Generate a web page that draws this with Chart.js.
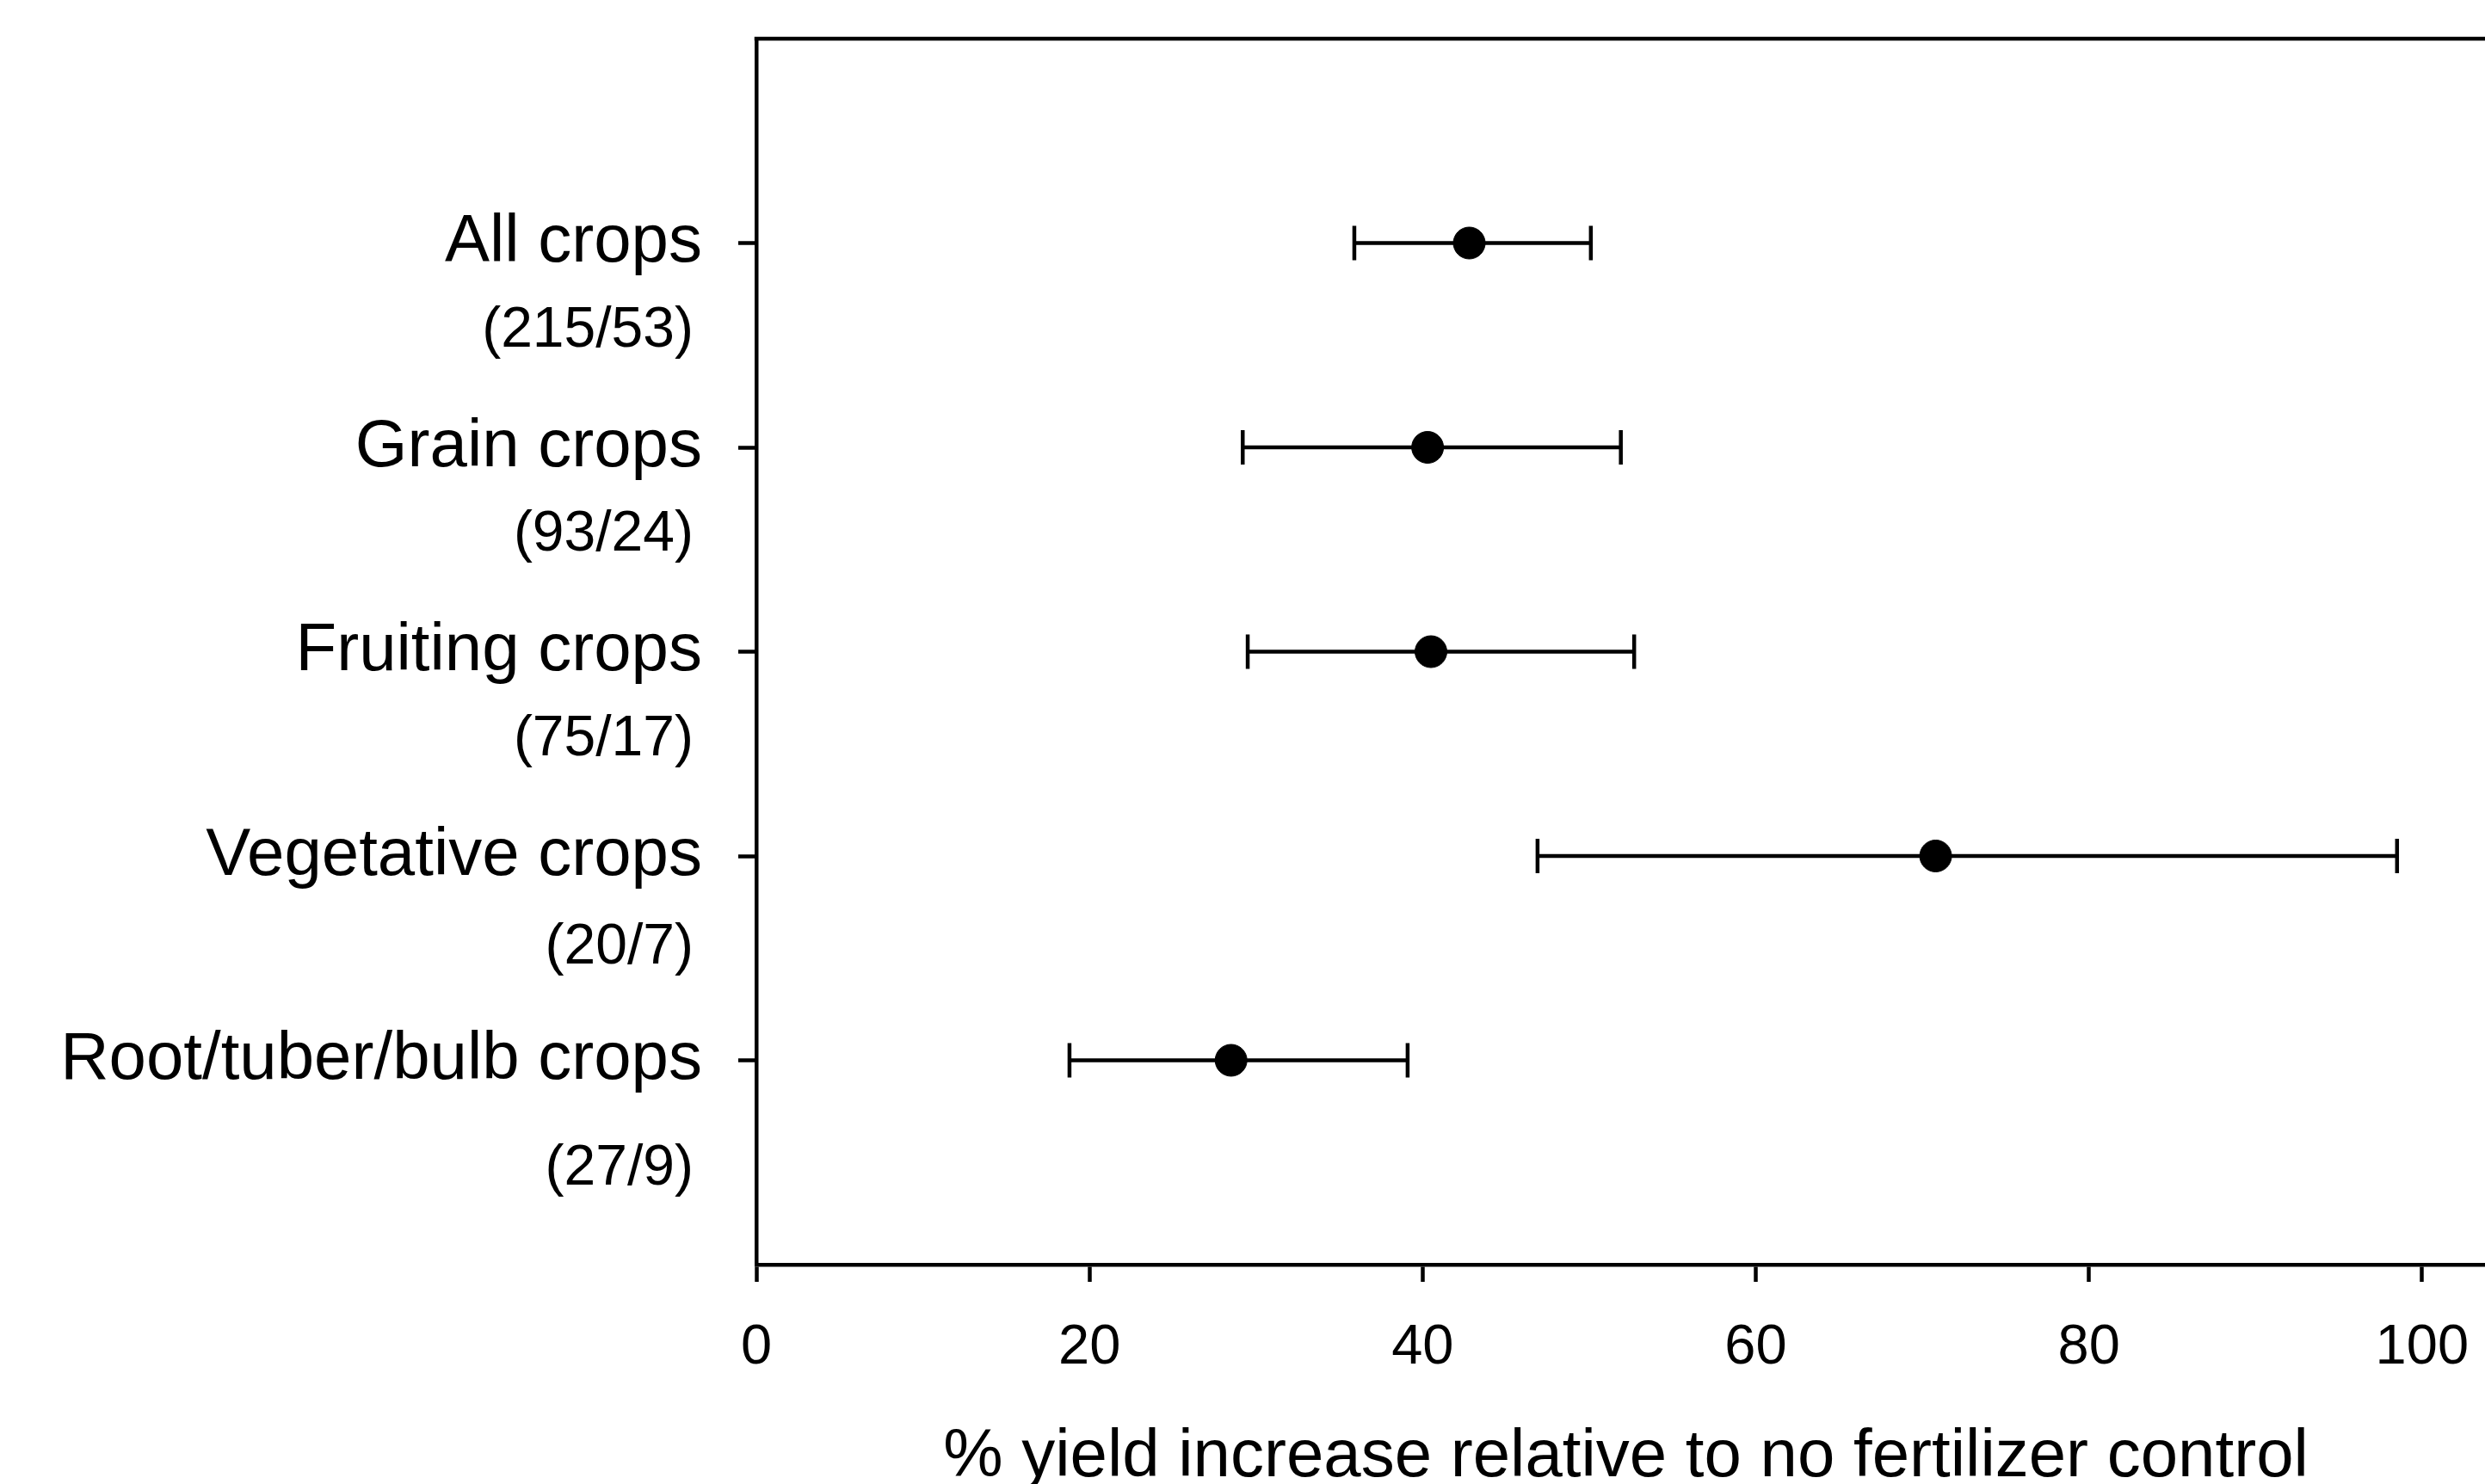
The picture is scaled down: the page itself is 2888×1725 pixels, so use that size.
<!DOCTYPE html>
<html lang="en">
<head>
    <meta charset="utf-8" />
    <title>Yield increase by crop group</title>
    <script src="https://cdn.jsdelivr.net/npm/chart.js@4"></script>
    <style>
        html, body { margin: 0; padding: 0; background: #fff; overflow: hidden; }
        canvas { display: block; }
    </style>
</head>
<body>
    <canvas id="chart" width="2900" height="1760"></canvas>
    <script>
        // values
        const categories = ['All crops', 'Grain crops', 'Fruiting crops', 'Vegetative crops', 'Root/tuber/bulb crops'];
        const sampleSizes = ['(215/53)', '(93/24)', '(75/17)', '(20/7)', '(27/9)'];
        const meanIncrease = [42.8, 40.3, 40.5, 70.8, 28.5];
        const lowerCI = [35.9, 29.2, 29.5, 46.9, 18.8];
        const upperCI = [50.1, 51.9, 52.7, 98.5, 39.1];
        const xTicks = [0, 20, 40, 60, 80, 100];
        const xTitle = '% yield increase relative to no fertilizer control';

        const FONT = '"Liberation Sans", Arial, sans-serif';
        const subOffset = [0.43, 0.43, 0.43, 0.45, 0.53];
        const LW = 4.5;

        // horizontal error bars with end caps
        const errorBars = {
            id: 'errorBars',
            beforeDatasetsDraw(chart) {
                const { ctx, scales: { x, y } } = chart;
                ctx.save();
                ctx.strokeStyle = '#000';
                ctx.lineWidth = LW;
                categories.forEach((c, i) => {
                    const py = y.getPixelForValue(i + 1);
                    const x0 = x.getPixelForValue(lowerCI[i]);
                    const x1 = x.getPixelForValue(upperCI[i]);
                    ctx.beginPath();
                    ctx.moveTo(x0, py); ctx.lineTo(x1, py);
                    ctx.moveTo(x0, py - 20); ctx.lineTo(x0, py + 20);
                    ctx.moveTo(x1, py - 20); ctx.lineTo(x1, py + 20);
                    ctx.stroke();
                });
                ctx.restore();
            }
        };

        // top frame line + the (n/m) sub labels under each category
        const extras = {
            id: 'extras',
            afterDraw(chart) {
                const { ctx, chartArea, scales: { y } } = chart;
                ctx.save();
                ctx.strokeStyle = '#000';
                ctx.lineWidth = LW;
                ctx.beginPath();
                ctx.moveTo(chartArea.left - LW / 2, chartArea.top);
                ctx.lineTo(chartArea.right, chartArea.top);
                ctx.stroke();

                ctx.fillStyle = '#000';
                ctx.font = '66px ' + FONT;
                ctx.textAlign = 'right';
                ctx.textBaseline = 'middle';
                sampleSizes.forEach((s, i) => {
                    ctx.fillText(s, 806, y.getPixelForValue(i + 1 + subOffset[i]));
                });
                ctx.restore();
            }
        };

        new Chart(document.getElementById('chart'), {
            type: 'scatter',
            data: {
                datasets: [{
                    data: categories.map((c, i) => ({ x: meanIncrease[i], y: i + 1 })),
                    backgroundColor: '#000',
                    borderColor: '#000',
                    pointRadius: 18.5,
                    pointHoverRadius: 18.5
                }]
            },
            options: {
                responsive: false,
                animation: false,
                layout: { autoPadding: false, padding: { top: 45, left: 0, right: 0, bottom: 0 } },
                plugins: {
                    legend: { display: false },
                    tooltip: { enabled: false }
                },
                scales: {
                    x: {
                        type: 'linear',
                        min: 0,
                        max: 104.4,
                        afterBuildTicks: (scale) => { scale.ticks = xTicks.map(v => ({ value: v })); },
                        afterFit: (scale) => {
                            scale.height = 1760 - 1470;
                            scale.paddingLeft = 0;
                            scale.paddingRight = 0;
                        },
                        grid: { drawOnChartArea: false, tickLength: 20, tickWidth: LW, tickColor: '#000' },
                        border: { color: '#000', width: LW },
                        ticks: { color: '#000', font: { family: FONT, size: 65 }, padding: 38, maxRotation: 0 },
                        title: {
                            display: true,
                            text: xTitle,
                            color: '#000',
                            font: { family: FONT, size: 78 },
                            padding: { top: 0, bottom: 19 }
                        }
                    },
                    y: {
                        type: 'linear',
                        min: 0,
                        max: 6,
                        reverse: true,
                        afterBuildTicks: (scale) => { scale.ticks = categories.map((c, i) => ({ value: i + 1 })); },
                        afterFit: (scale) => {
                            scale.width = 879;
                            scale.paddingTop = 0;
                            scale.paddingBottom = 0;
                        },
                        grid: { drawOnChartArea: false, tickLength: 21, tickWidth: LW, tickColor: '#000' },
                        border: { color: '#000', width: LW },
                        ticks: {
                            color: '#000',
                            font: { family: FONT, size: 78 },
                            padding: 42,
                            callback: (v) => categories[v - 1]
                        }
                    }
                }
            },
            plugins: [errorBars, extras]
        });
    </script>
</body>
</html>
